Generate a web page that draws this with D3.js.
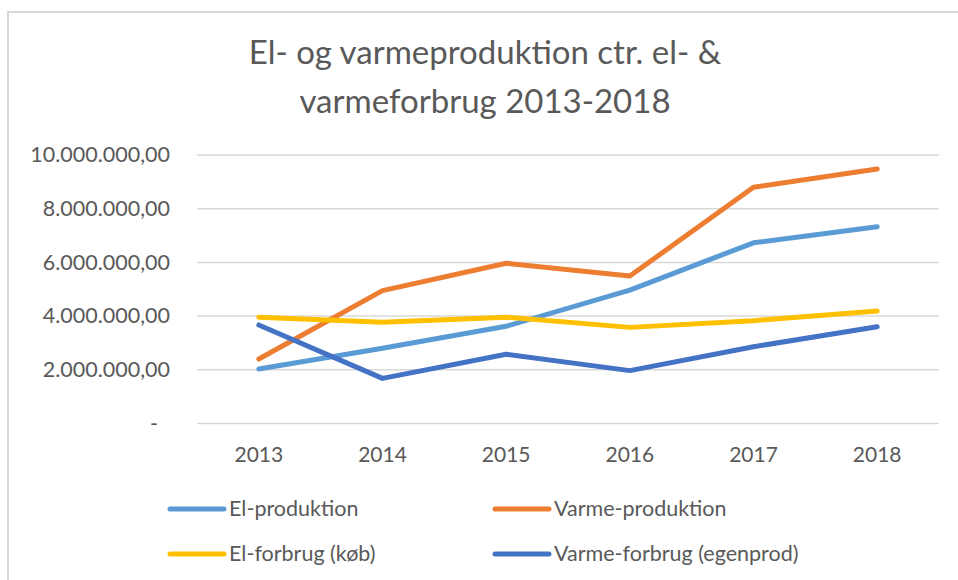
<!DOCTYPE html>
<html>
<head>
<meta charset="utf-8">
<script src="https://cdn.jsdelivr.net/npm/d3@7"></script>
<style>
  html, body { margin: 0; padding: 0; background: #fff; }
  svg { display: block; font-family: Lato, "Open Sans", sans-serif; }
</style>
</head>
<body>
<svg></svg>
<script>
// -----------------------------
// DATA
// -----------------------------
const years = ["2013", "2014", "2015", "2016", "2017", "2018"];
const elProduktion = [2030000, 2800000, 3620000, 4970000, 6730000, 7330000];
const varmeProduktion = [2400000, 4950000, 5970000, 5490000, 8800000, 9480000];
const elForbrug = [3960000, 3770000, 3960000, 3580000, 3830000, 4190000];
const varmeForbrug = [3670000, 1680000, 2580000, 1970000, 2860000, 3600000];
const yTicks = [0, 2000000, 4000000, 6000000, 8000000, 10000000];

const series = [
  { name: "El-produktion", values: elProduktion, color: "#5b9bd5" },
  { name: "Varme-produktion", values: varmeProduktion, color: "#ed7d31" },
  { name: "El-forbrug (køb)", values: elForbrug, color: "#ffc000" },
  { name: "Varme-forbrug (egenprod)", values: varmeForbrug, color: "#4472c4" }
];

const width = 958;
const height = 580;

const svg = d3.select("svg")
  .attr("width", width)
  .attr("height", height);

// chart frame
svg.append("path")
  .attr("d", `M8,${height + 5}V12H${width + 5}`)
  .attr("fill", "none")
  .attr("stroke", "#d9d9d9")
  .attr("stroke-width", 2);

// -----------------------------
// TITLE
// -----------------------------
const title = svg.append("text")
  .attr("text-anchor", "middle")
  .attr("fill", "#595959")
  .style("font-size", "33px");

title.append("tspan").attr("x", 485).attr("y", 64).text("El- og varmeproduktion ctr. el- &");
title.append("tspan").attr("x", 485).attr("y", 113).text("varmeforbrug 2013-2018");

// -----------------------------
// SCALES
// -----------------------------
const x = d3.scaleBand()
  .domain(years)
  .range([197, 939]);

const y = d3.scaleLinear()
  .domain([0, 10000000])
  .range([423.5, 155]);

const da = d3.formatLocale({ decimal: ",", thousands: ".", grouping: [3], currency: ["", " kr"] });
const fmt = da.format(",.2f");

// -----------------------------
// GRID + AXES
// -----------------------------
svg.append("g")
  .selectAll("line")
  .data(yTicks)
  .join("line")
  .attr("x1", 197)
  .attr("x2", 939)
  .attr("y1", d => y(d))
  .attr("y2", d => y(d))
  .attr("stroke", "#d9d9d9")
  .attr("stroke-width", 1.5);

const yAxis = svg.append("g")
  .attr("transform", "translate(170,0)")
  .call(d3.axisLeft(y).tickValues(yTicks).tickSize(0).tickPadding(0)
    .tickFormat(d => d === 0 ? "-" : fmt(d)));

yAxis.select(".domain").remove();
yAxis.selectAll("text")
  .attr("fill", "#595959")
  .attr("dx", d => d === 0 ? -12 : 0)
  .style("font-size", "21.5px")
  .style("font-family", "Lato, 'Open Sans', sans-serif");

const xAxis = svg.append("g")
  .attr("transform", "translate(0,423.5)")
  .call(d3.axisBottom(x).tickSize(0).tickPadding(0));

xAxis.select(".domain").remove();
xAxis.selectAll("text")
  .attr("fill", "#595959")
  .attr("dy", null)
  .attr("y", 38)
  .style("font-size", "21px")
  .style("font-family", "Lato, 'Open Sans', sans-serif");

// -----------------------------
// LINES
// -----------------------------
const line = d3.line()
  .x((d, i) => x(years[i]) + x.bandwidth() / 2)
  .y(d => y(d));

svg.append("g")
  .selectAll("path")
  .data(series)
  .join("path")
  .attr("d", d => line(d.values))
  .attr("fill", "none")
  .attr("stroke", d => d.color)
  .attr("stroke-width", 5)
  .attr("stroke-linecap", "round")
  .attr("stroke-linejoin", "round");

// -----------------------------
// LEGEND
// -----------------------------
const legendPos = [[170, 509], [495, 509], [170, 554], [495, 554]];

const legend = svg.append("g")
  .selectAll("g")
  .data(series)
  .join("g")
  .attr("transform", (d, i) => `translate(${legendPos[i][0]},${legendPos[i][1]})`);

legend.append("line")
  .attr("x1", 0)
  .attr("x2", 54)
  .attr("stroke", d => d.color)
  .attr("stroke-width", 5)
  .attr("stroke-linecap", "round");

legend.append("text")
  .attr("x", 59)
  .attr("y", 7)
  .attr("fill", "#595959")
  .style("font-size", "21.5px")
  .text(d => d.name);
</script>
</body>
</html>
